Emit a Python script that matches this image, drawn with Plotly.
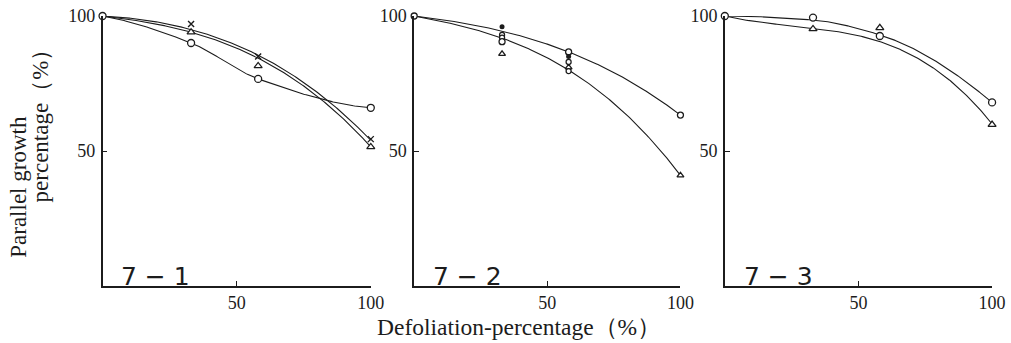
import numpy as np
import plotly.graph_objects as go

# Defoliation levels (%) shared by every panel
defol = [0, 33, 58, 100]

# Panel 7-1: observed values per treatment
p1_circle = [100, 90, 76.7, 66]
p1_cross = [100, 97, 85, 54.4]
p1_tri = [100, 94, 81.5, 51.5]
# Panel 7-1: response curves read at the same defoliation levels
p1_curve_a = [100, 95, 85.5, 54]
p1_curve_b = [100, 94, 84.4, 51.5]
p1_curve_c = [100, 90, 76.7, 66]

# Panel 7-2: observed values
p2_circle = [100, 90.5, 86.7, 63.3]
p2_tri = [100, 86, 81, 41]
p2_dot_x = [33, 58]
p2_dot = [96, 85]
p2_small_x = [33, 33, 58, 58]
p2_small = [93, 92, 83, 79.6]
# Panel 7-2: response curves
p2_curve_a = [100, 94.4, 86.7, 63.3]
p2_curve_b = [100, 91.8, 80, 41]

# Panel 7-3: observed values
p3_circle = [100, 99.4, 92.6, 68]
p3_tri = [100, 95.2, 95.6, 59.8]
# Panel 7-3: response curves
p3_curve_a = [100, 98.5, 93, 68]
p3_curve_b = [100, 95.5, 90.5, 60]

panel_names = ["7 − 1", "7 − 2", "7 − 3"]
x_ticks = [50, 100]
y_ticks = [50, 100]

W, H = 1011, 343
ink = "#1c1c1c"
serif = "Liberation Serif, DejaVu Serif, serif"

fig = go.Figure()


def pchip(xk, yk, xs):
    """Monotone cubic Hermite (Fritsch-Carlson) through the knots."""
    xk = np.asarray(xk, float)
    yk = np.asarray(yk, float)
    h = np.diff(xk)
    d = np.diff(yk) / h
    n = len(xk)
    m = np.zeros(n)
    for k in range(1, n - 1):
        if d[k - 1] * d[k] > 0:
            w1 = 2 * h[k] + h[k - 1]
            w2 = h[k] + 2 * h[k - 1]
            m[k] = (w1 + w2) / (w1 / d[k - 1] + w2 / d[k])
    m[0] = ((2 * h[0] + h[1]) * d[0] - h[0] * d[1]) / (h[0] + h[1])
    if np.sign(m[0]) != np.sign(d[0]):
        m[0] = 0
    m[-1] = ((2 * h[-1] + h[-2]) * d[-1] - h[-1] * d[-2]) / (h[-1] + h[-2])
    if np.sign(m[-1]) != np.sign(d[-1]):
        m[-1] = 0
    out = np.empty_like(xs, dtype=float)
    for j, x in enumerate(xs):
        k = min(np.searchsorted(xk, x, side="right") - 1, n - 2)
        t = (x - xk[k]) / h[k]
        h00 = 2 * t**3 - 3 * t**2 + 1
        h10 = t**3 - 2 * t**2 + t
        h01 = -2 * t**3 + 3 * t**2
        h11 = t**3 - t**2
        out[j] = (h00 * yk[k] + h10 * h[k] * m[k]
                  + h01 * yk[k + 1] + h11 * h[k] * m[k + 1])
    return out


grid = np.linspace(0, 100, 201)


def smooth(vals):
    # cubic through the readings; monotone Hermite if the cubic turns back up
    ys = np.polyval(np.polyfit(defol, vals, 3), grid)
    if np.any(np.diff(ys) > 1e-6):
        ys = pchip(defol, vals, grid)
    return ys


def curve(xa, ya, vals):
    fig.add_trace(go.Scatter(
        x=grid, y=smooth(vals), mode="lines", xaxis=xa, yaxis=ya,
        line=dict(color=ink, width=1.1),
        showlegend=False, hoverinfo="skip", cliponaxis=False))


def points(xa, ya, xs, ys, symbol, size=7, width=1.3):
    fig.add_trace(go.Scatter(
        x=xs, y=ys, mode="markers", xaxis=xa, yaxis=ya,
        marker=dict(symbol=symbol, size=size, color="white",
                    line=dict(color=ink, width=width)),
        showlegend=False, cliponaxis=False))


# 7-1
curve("x", "y", p1_curve_a)
curve("x", "y", p1_curve_b)
curve("x", "y", p1_curve_c)
points("x", "y", defol[1:], p1_tri[1:], "triangle-up", 7)
points("x", "y", defol[1:], p1_cross[1:], "x-thin", 6, 1.4)
points("x", "y", defol, p1_circle, "circle", 7)

# 7-2
curve("x2", "y2", p2_curve_a)
curve("x2", "y2", p2_curve_b)
points("x2", "y2", defol[1:], p2_tri[1:], "triangle-up", 6)
points("x2", "y2", p2_small_x, p2_small, "circle", 5)
points("x2", "y2", defol, p2_circle, "circle", 6)
fig.add_trace(go.Scatter(
    x=p2_dot_x, y=p2_dot, mode="markers", xaxis="x2", yaxis="y2",
    marker=dict(symbol="circle", size=5, color=ink),
    showlegend=False, cliponaxis=False))

# 7-3
curve("x3", "y3", p3_curve_a)
curve("x3", "y3", p3_curve_b)
points("x3", "y3", defol[1:], p3_tri[1:], "triangle-up", 7)
points("x3", "y3", defol, p3_circle, "circle", 7)

# panel placement in pixels: (left, right)
spans = [(104, 376), (420, 690), (735, 1006)]
top_px, bottom_px = 16, 286
plot_h = bottom_px - top_px

axis_common = dict(
    showline=True, linecolor=ink, linewidth=1.6, showgrid=False,
    zeroline=False, ticks="inside", ticklen=5, tickwidth=1.3,
    tickcolor=ink, tickfont=dict(family=serif, size=18, color=ink),
    range=[0, 100])

layout = dict(
    width=W, height=H, paper_bgcolor="white", plot_bgcolor="white",
    margin=dict(l=0, r=0, t=top_px, b=H - bottom_px),
    showlegend=False)

for i, (l, r) in enumerate(spans):
    sfx = "" if i == 0 else str(i + 1)
    layout["xaxis" + sfx] = dict(
        axis_common, domain=[l / W, r / W], anchor="y" + sfx,
        tickvals=x_ticks)
    layout["yaxis" + sfx] = dict(
        axis_common, domain=[0, 1], anchor="x" + sfx,
        tickvals=y_ticks, ticklabelstandoff=2)

fig.update_layout(**layout)

annotations = []
for i, (l, r) in enumerate(spans):
    annotations.append(dict(
        x=(l + 17) / W, y=0, xref="paper", yref="paper",
        yanchor="bottom", xanchor="left", showarrow=False, yshift=-7,
        text=panel_names[i],
        font=dict(family="DejaVu Sans, sans-serif", size=25, color=ink)))

# Axis titles
annotations.append(dict(
    x=526 / W, y=-(327 - bottom_px) / plot_h, xref="paper", yref="paper",
    xanchor="center", yanchor="middle", showarrow=False,
    text="Defoliation-percentage（%）",
    font=dict(family=serif, size=23.5, color=ink)))
annotations.append(dict(
    x=18 / W, y=(bottom_px - 187) / plot_h,
    xref="paper", yref="paper", xanchor="center", yanchor="middle",
    showarrow=False, textangle=-90, text="Parallel growth",
    font=dict(family=serif, size=23, color=ink)))
annotations.append(dict(
    x=41 / W, y=(bottom_px - 120) / plot_h,
    xref="paper", yref="paper", xanchor="center", yanchor="middle",
    showarrow=False, textangle=-90, text="percentage（%）",
    font=dict(family=serif, size=23, color=ink)))

fig.update_layout(annotations=annotations)

fig.write_html("out.html")
